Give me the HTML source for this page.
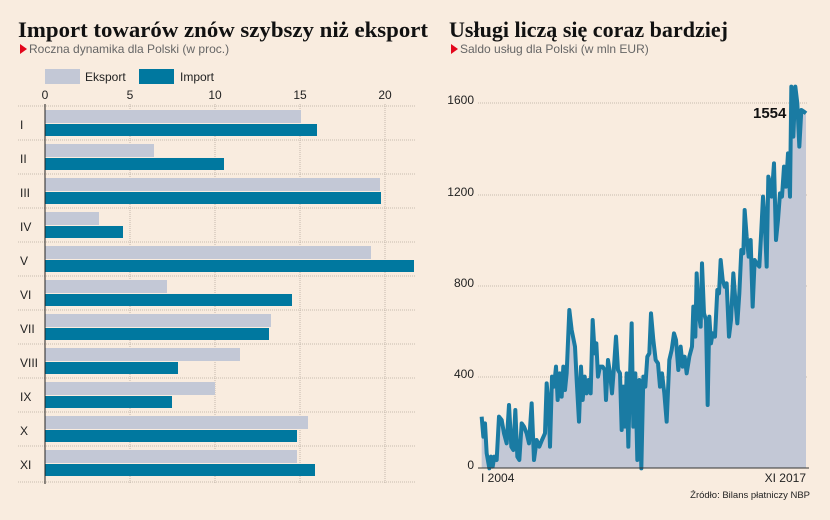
<!DOCTYPE html>
<html><head><meta charset="utf-8"><style>
body{margin:0;background:#f9ecdf;}
svg{display:block;font-family:"Liberation Sans",sans-serif;}
</style></head><body>
<svg width="830" height="520" viewBox="0 0 830 520">
<rect width="830" height="520" fill="#f9ecdf"/>
<text x="18" y="37" font-family="Liberation Serif,serif" font-weight="bold" font-size="22.5" fill="#111" textLength="410" lengthAdjust="spacingAndGlyphs">Import towarów znów szybszy niż eksport</text>
<text x="449" y="37" font-family="Liberation Serif,serif" font-weight="bold" font-size="22.5" fill="#111" textLength="279" lengthAdjust="spacingAndGlyphs">Usługi liczą się coraz bardziej</text>
<polygon points="20,44 27,49 20,54" fill="#e3061b"/>
<text x="29" y="53" font-size="12" fill="#666">Roczna dynamika dla Polski (w proc.)</text>
<polygon points="451,44 458,49 451,54" fill="#e3061b"/>
<text x="460" y="53" font-size="12" fill="#666">Saldo usług dla Polski (w mln EUR)</text>
<rect x="45" y="69" width="35" height="15" fill="#c3c8d6"/>
<text x="85" y="81" font-size="12" fill="#222">Eksport</text>
<rect x="139" y="69" width="35" height="15" fill="#00789f"/>
<text x="180" y="81" font-size="12" fill="#222">Import</text>
<g font-size="12" fill="#222" text-anchor="middle">
<text x="45" y="99">0</text><text x="130" y="99">5</text><text x="215" y="99">10</text><text x="300" y="99">15</text><text x="385" y="99">20</text>
</g>
<g stroke="#b8aca0" stroke-width="0.8" stroke-dasharray="1,1">
<line x1="130" y1="104" x2="130" y2="484"/><line x1="215" y1="104" x2="215" y2="484"/><line x1="300" y1="104" x2="300" y2="484"/><line x1="385" y1="104" x2="385" y2="484"/>
<line x1="18" y1="106" x2="415" y2="106"/><line x1="18" y1="140" x2="415" y2="140"/><line x1="18" y1="174" x2="415" y2="174"/><line x1="18" y1="208" x2="415" y2="208"/><line x1="18" y1="242" x2="415" y2="242"/><line x1="18" y1="276" x2="415" y2="276"/><line x1="18" y1="310" x2="415" y2="310"/><line x1="18" y1="344" x2="415" y2="344"/><line x1="18" y1="378" x2="415" y2="378"/><line x1="18" y1="412" x2="415" y2="412"/><line x1="18" y1="446" x2="415" y2="446"/><line x1="18" y1="482" x2="415" y2="482"/>
</g>
<g fill="#c3c8d6">
<rect x="45" y="110" width="256" height="13"/><rect x="45" y="144" width="109" height="13"/><rect x="45" y="178" width="335" height="13"/><rect x="45" y="212" width="54" height="13"/><rect x="45" y="246" width="326" height="13"/><rect x="45" y="280" width="122" height="13"/><rect x="45" y="314" width="226" height="13"/><rect x="45" y="348" width="195" height="13"/><rect x="45" y="382" width="170" height="13"/><rect x="45" y="416" width="263" height="13"/><rect x="45" y="450" width="252" height="13"/>
</g>
<g fill="#00789f">
<rect x="45" y="124" width="272" height="12"/><rect x="45" y="158" width="179" height="12"/><rect x="45" y="192" width="336" height="12"/><rect x="45" y="226" width="78" height="12"/><rect x="45" y="260" width="369" height="12"/><rect x="45" y="294" width="247" height="12"/><rect x="45" y="328" width="224" height="12"/><rect x="45" y="362" width="133" height="12"/><rect x="45" y="396" width="127" height="12"/><rect x="45" y="430" width="252" height="12"/><rect x="45" y="464" width="270" height="12"/>
</g>
<line x1="45" y1="104" x2="45" y2="484" stroke="#222" stroke-width="1"/>
<g font-size="12" fill="#222">
<text x="20" y="129">I</text><text x="20" y="163">II</text><text x="20" y="197">III</text><text x="20" y="231">IV</text><text x="20" y="265">V</text><text x="20" y="299">VI</text><text x="20" y="333">VII</text><text x="20" y="367">VIII</text><text x="20" y="401">IX</text><text x="20" y="435">X</text><text x="20" y="469">XI</text>
</g>
<g stroke="#b8aca0" stroke-width="0.8" stroke-dasharray="1,1">
<line x1="478" y1="103" x2="808" y2="103"/><line x1="478" y1="195" x2="808" y2="195"/><line x1="478" y1="286" x2="808" y2="286"/><line x1="478" y1="377" x2="808" y2="377"/>
</g>
<g font-size="12" fill="#222" text-anchor="end">
<text x="474" y="104">1600</text><text x="474" y="196">1200</text><text x="474" y="287">800</text><text x="474" y="378">400</text><text x="474" y="469">0</text>
</g>
<g transform="translate(430,80) scale(0.33333)">
<polygon fill="#c3c8d6" points="155,1165 155,1010 160,1070 165,1030 170,1120 178,1165 183,1130 188,1160 193,1130 200,1140 207,1010 215,1020 222,1060 230,1090 237,975 244,1100 250,1110 256,990 262,1130 268,1140 275,1030 282,1040 290,1060 297,1090 305,970 312,1140 320,1080 328,1100 336,1080 345,1060 350,910 356,980 360,1100 366,890 372,920 378,860 383,960 389,880 395,950 400,860 405,930 410,880 418,690 425,750 435,800 440,900 447,1025 453,860 458,960 464,890 470,940 476,900 482,940 488,720 494,820 499,790 504,890 510,860 518,860 524,870 528,960 534,840 540,880 546,940 552,860 558,770 564,870 570,880 575,1050 580,920 585,1040 590,880 595,1100 600,890 605,730 610,1040 616,880 622,1140 628,900 634,1165 640,890 646,920 652,830 658,820 663,700 670,780 677,840 684,850 690,920 696,880 703,940 710,1025 718,840 725,810 732,760 738,780 745,870 752,800 758,860 764,830 770,880 778,830 786,800 790,680 796,770 800,580 806,700 812,740 816,550 822,700 828,720 833,975 838,710 843,790 848,760 855,770 862,630 867,640 872,540 878,600 884,620 890,610 897,770 903,720 910,580 916,660 922,730 928,640 934,510 940,520 944,390 950,470 956,530 962,480 968,680 974,540 980,550 988,560 994,450 999,350 1004,420 1010,560 1015,290 1020,310 1025,350 1032,250 1038,480 1044,420 1050,340 1056,350 1062,260 1068,320 1074,220 1080,350 1084,20 1090,170 1096,20 1102,70 1108,200 1114,90 1122,95 1128,100 1128,1165"/>
<polyline fill="none" stroke="#1a7ba3" stroke-width="12" stroke-linejoin="round" points="155,1010 160,1070 165,1030 170,1120 178,1165 183,1130 188,1160 193,1130 200,1140 207,1010 215,1020 222,1060 230,1090 237,975 244,1100 250,1110 256,990 262,1130 268,1140 275,1030 282,1040 290,1060 297,1090 305,970 312,1140 320,1080 328,1100 336,1080 345,1060 350,910 356,980 360,1100 366,890 372,920 378,860 383,960 389,880 395,950 400,860 405,930 410,880 418,690 425,750 435,800 440,900 447,1025 453,860 458,960 464,890 470,940 476,900 482,940 488,720 494,820 499,790 504,890 510,860 518,860 524,870 528,960 534,840 540,880 546,940 552,860 558,770 564,870 570,880 575,1050 580,920 585,1040 590,880 595,1100 600,890 605,730 610,1040 616,880 622,1140 628,900 634,1165 640,890 646,920 652,830 658,820 663,700 670,780 677,840 684,850 690,920 696,880 703,940 710,1025 718,840 725,810 732,760 738,780 745,870 752,800 758,860 764,830 770,880 778,830 786,800 790,680 796,770 800,580 806,700 812,740 816,550 822,700 828,720 833,975 838,710 843,790 848,760 855,770 862,630 867,640 872,540 878,600 884,620 890,610 897,770 903,720 910,580 916,660 922,730 928,640 934,510 940,520 944,390 950,470 956,530 962,480 968,680 974,540 980,550 988,560 994,450 999,350 1004,420 1010,560 1015,290 1020,310 1025,350 1032,250 1038,480 1044,420 1050,340 1056,350 1062,260 1068,320 1074,220 1080,350 1084,20 1090,170 1096,20 1102,70 1108,200 1114,90 1122,95 1128,100"/>
</g>
<line x1="478" y1="468" x2="809" y2="468" stroke="#333" stroke-width="1"/>
<text x="753" y="118" font-size="15" font-weight="bold" fill="#111">1554</text>
<text x="481" y="482" font-size="12" fill="#222">I 2004</text>
<text x="806" y="482" font-size="12" fill="#222" text-anchor="end">XI 2017</text>
<text x="810" y="498" font-size="9.5" fill="#222" text-anchor="end">Źródło:  Bilans płatniczy NBP</text>
</svg>
</body></html>
